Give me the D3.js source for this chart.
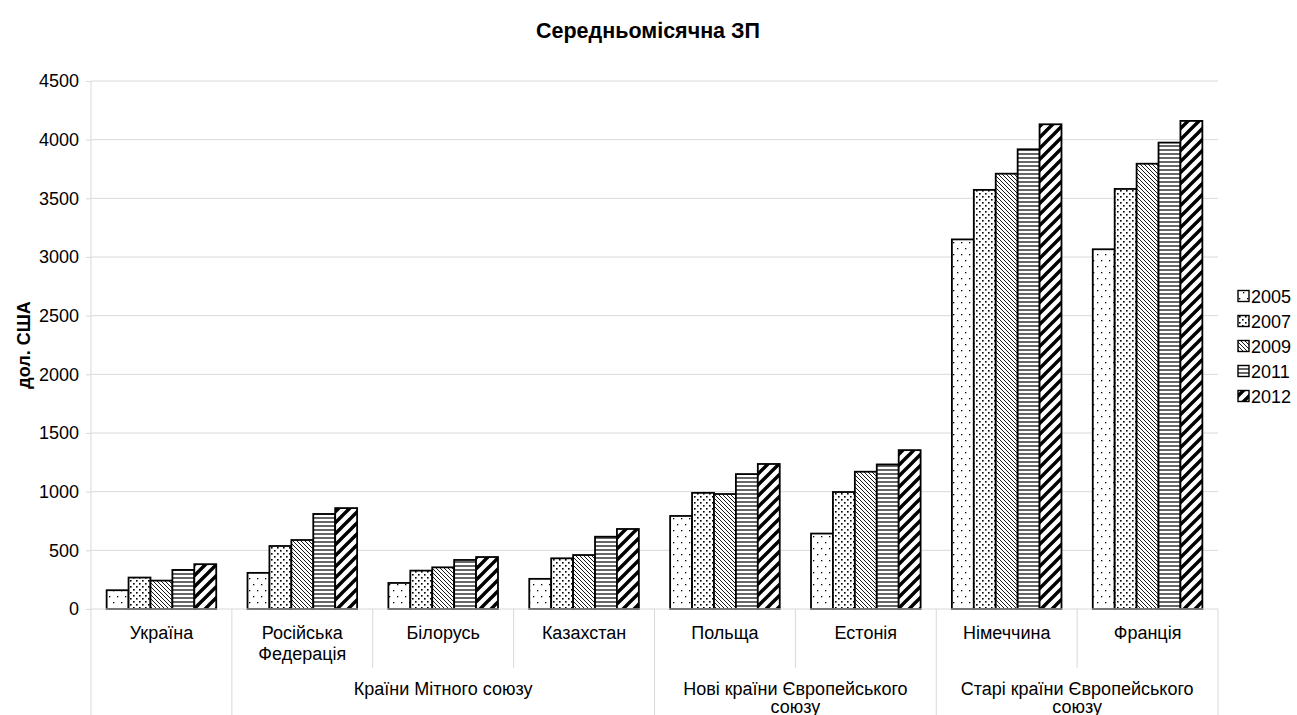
<!DOCTYPE html>
<html>
<head>
<meta charset="utf-8">
<script src="https://cdn.jsdelivr.net/npm/d3@7"></script>
<style>
  html, body { margin: 0; padding: 0; background: #fff; }
  svg { display: block; font-family: "Liberation Sans", Arial, sans-serif; }
</style>
</head>
<body>
<svg id="chart" width="1297" height="715"></svg>
<script>
// Average monthly wage, USD
const countries = ["Україна", "Російська Федерація", "Білорусь", "Казахстан", "Польща", "Естонія", "Німеччина", "Франція"];
const countryLines = [["Україна"], ["Російська", "Федерація"], ["Білорусь"], ["Казахстан"], ["Польща"], ["Естонія"], ["Німеччина"], ["Франція"]];
const years = ["2005", "2007", "2009", "2011", "2012"];
const wage2005 = [160, 308, 222, 257, 793, 643, 3150, 3066];
const wage2007 = [268, 537, 327, 432, 990, 997, 3572, 3580];
const wage2009 = [242, 588, 355, 460, 980, 1170, 3710, 3795];
const wage2011 = [333, 810, 418, 616, 1150, 1232, 3918, 3975];
const wage2012 = [382, 860, 443, 682, 1236, 1354, 4131, 4160];
const seriesValues = [wage2005, wage2007, wage2009, wage2011, wage2012];
// country groups: label lines, first and last country index
const groups = [
  { lines: [], from: 0, to: 0 },
  { lines: ["Країни Мітного союзу"], from: 1, to: 3 },
  { lines: ["Нові країни Європейського", "союзу"], from: 4, to: 5 },
  { lines: ["Старі країни Європейського", "союзу"], from: 6, to: 7 }
];
const yTicks = [0, 500, 1000, 1500, 2000, 2500, 3000, 3500, 4000, 4500];

const svg = d3.select("#chart");
const plotLeft = 91, plotRight = 1218, plotTop = 81, plotBottom = 609;
const gridColor = "#d9d9d9";
const fontSize = 18;

// fill patterns for each year
const defs = svg.append("defs");
function pattern(id, w, h, draw) {
  const p = defs.append("pattern").attr("id", id)
    .attr("patternUnits", "userSpaceOnUse").attr("width", w).attr("height", h);
  p.append("rect").attr("width", w).attr("height", h).attr("fill", "#fff");
  draw(p);
}
pattern("p2005", 8, 12, p => {
  p.append("rect").attr("x", 1).attr("y", 2).attr("width", 1.3).attr("height", 1.3).attr("fill", "#000");
  p.append("rect").attr("x", 5).attr("y", 8).attr("width", 1.3).attr("height", 1.3).attr("fill", "#000");
});
pattern("p2007", 6, 6, p => {
  p.append("rect").attr("x", 1).attr("y", 1).attr("width", 1.6).attr("height", 1.6).attr("fill", "#000");
  p.append("rect").attr("x", 4).attr("y", 4).attr("width", 1.6).attr("height", 1.6).attr("fill", "#000");
});
pattern("p2009", 4, 4, p => {
  p.append("path").attr("d", "M0,0L4,4M-1,3L1,5M3,-1L5,1")
    .attr("stroke", "#000").attr("stroke-width", 0.9);
});
pattern("p2011", 4, 4, p => {
  p.append("line").attr("x1", 0).attr("x2", 4).attr("y1", 2).attr("y2", 2)
    .attr("stroke", "#000").attr("stroke-width", 1.2);
});
pattern("p2012", 11, 11, p => {
  p.append("path").attr("d", "M0,11L11,0M-3,3L3,-3M8,14L14,8")
    .attr("stroke", "#000").attr("stroke-width", 3.4);
});

const x0 = d3.scaleBand().domain(countries).range([plotLeft, plotRight]);
const bw = x0.bandwidth();
const gap = bw * 0.222;
const x1 = d3.scaleBand().domain(years).range([gap / 2, bw - gap / 2]);
const y = d3.scaleLinear().domain([0, 4500]).range([plotBottom, plotTop]);

// title
svg.append("text").attr("x", 648).attr("y", 38).attr("text-anchor", "middle")
  .attr("font-size", 21.5).attr("font-weight", "bold").text("Середньомісячна ЗП");

// gridlines
svg.append("g").selectAll("line").data(yTicks.filter(d => d > 0)).join("line")
  .attr("x1", plotLeft).attr("x2", plotRight).attr("y1", d => y(d)).attr("y2", d => y(d))
  .attr("stroke", gridColor).attr("stroke-width", 1);

// y axis
const yAxis = svg.append("g").attr("transform", `translate(${plotLeft},0)`)
  .call(d3.axisLeft(y).tickValues(yTicks).tickSize(5).tickPadding(7).tickFormat(d3.format("d")));
yAxis.select(".domain").remove();
yAxis.selectAll(".tick line").attr("stroke", gridColor);
yAxis.selectAll(".tick text").attr("font-size", fontSize).attr("fill", "#000")
  .attr("font-family", "Liberation Sans, Arial, sans-serif");
svg.append("line").attr("x1", plotLeft).attr("x2", plotLeft).attr("y1", plotTop).attr("y2", 715)
  .attr("stroke", gridColor);

svg.append("text").attr("transform", `translate(30,${(plotTop + plotBottom) / 2}) rotate(-90)`)
  .attr("text-anchor", "middle").attr("font-size", fontSize).attr("font-weight", "bold")
  .text("дол. США");

// bars
const barG = svg.append("g");
seriesValues.forEach((vals, si) => {
  barG.append("g").selectAll("rect").data(vals).join("rect")
    .attr("x", (d, i) => x0(countries[i]) + x1(years[si]))
    .attr("y", d => y(d))
    .attr("width", x1.bandwidth())
    .attr("height", d => y(0) - y(d))
    .attr("fill", `url(#p${years[si]})`)
    .attr("stroke", "#000").attr("stroke-width", 1.8);
});

// category axis
svg.append("line").attr("x1", plotLeft).attr("x2", plotRight).attr("y1", plotBottom).attr("y2", plotBottom)
  .attr("stroke", gridColor);
const fullBounds = new Set(groups.map(g => g.from).concat([countries.length]));
d3.range(1, countries.length + 1).forEach(i => {
  const xb = i < countries.length ? x0(countries[i]) : plotRight;
  svg.append("line").attr("x1", xb).attr("x2", xb).attr("y1", plotBottom)
    .attr("y2", fullBounds.has(i) ? 715 : 668).attr("stroke", gridColor);
});
svg.append("g").selectAll("text").data(countryLines).join("text")
  .attr("x", (d, i) => x0(countries[i]) + bw / 2).attr("y", 638.5)
  .attr("text-anchor", "middle").attr("font-size", fontSize)
  .each(function (lines) {
    const t = d3.select(this);
    t.selectAll("tspan").data(lines).join("tspan")
      .attr("x", t.attr("x")).attr("dy", (l, k) => k === 0 ? 0 : 21).text(l => l);
  });
svg.append("g").selectAll("text").data(groups.filter(g => g.lines.length)).join("text")
  .attr("x", g => (x0(countries[g.from]) + x0(countries[g.to]) + bw) / 2).attr("y", 694.5)
  .attr("text-anchor", "middle").attr("font-size", fontSize)
  .each(function (g) {
    const t = d3.select(this);
    t.selectAll("tspan").data(g.lines).join("tspan")
      .attr("x", t.attr("x")).attr("dy", (l, k) => k === 0 ? 0 : 18).text(l => l);
  });

// legend
const legend = svg.append("g").attr("transform", "translate(1238,296)");
years.forEach((yr, i) => {
  const g = legend.append("g").attr("transform", `translate(0,${i * 25})`);
  g.append("rect").attr("x", 0).attr("y", -5.5).attr("width", 11).attr("height", 11)
    .attr("fill", `url(#p${yr})`).attr("stroke", "#000").attr("stroke-width", 1.4);
  g.append("text").attr("x", 13).attr("y", 6.5).attr("font-size", fontSize).text(yr);
});
</script>
</body>
</html>
